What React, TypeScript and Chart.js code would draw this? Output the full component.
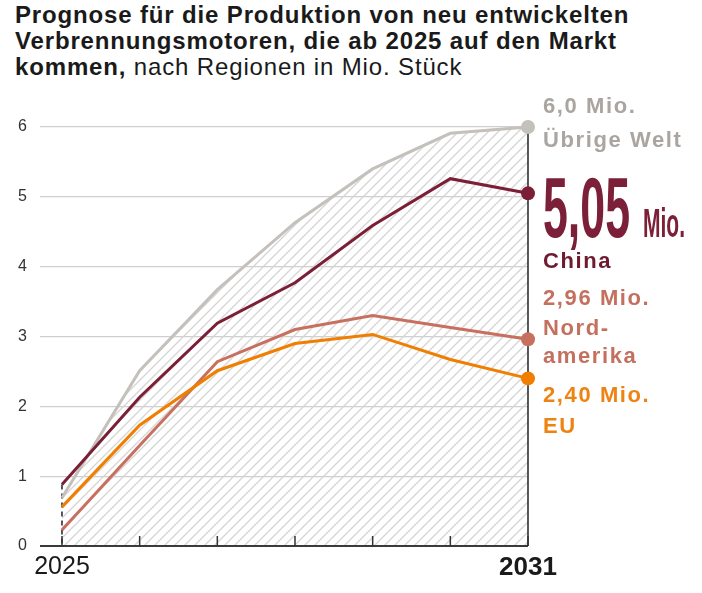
import React, { useEffect, useRef } from "react";
import { Chart, registerables } from "chart.js";

Chart.register(...registerables);

const years = [2025, 2026, 2027, 2028, 2029, 2030, 2031];
const uebrigeWelt = [0.69, 2.51, 3.67, 4.63, 5.4, 5.91, 6.0];
const china = [0.88, 2.13, 3.19, 3.77, 4.59, 5.26, 5.05];
const nordamerika = [0.23, 1.44, 2.64, 3.1, 3.3, 3.13, 2.96];
const eu = [0.56, 1.73, 2.51, 2.9, 3.03, 2.67, 2.4];
const yTickValues = [0, 1, 2, 3, 4, 5, 6];
const shownYears = ["2025", "2031"];

const GRAY = "#c4c0bb";
const CHINA = "#7b1f36";
const NA = "#c8705f";
const EU = "#f07e00";
const FONT = "'Liberation Sans', Arial, sans-serif";

function makeHatch(): CanvasPattern | string {
  const c = document.createElement("canvas");
  c.width = 10;
  c.height = 10;
  const g = c.getContext("2d");
  if (!g) return "rgba(0,0,0,0.05)";
  g.strokeStyle = "#d6d6d6";
  g.lineWidth = 1.4;
  g.beginPath();
  g.moveTo(-1, 11);
  g.lineTo(11, -1);
  g.moveTo(-6, 6);
  g.lineTo(6, -6);
  g.moveTo(4, 16);
  g.lineTo(16, 4);
  g.stroke();
  const p = g.createPattern(c, "repeat");
  return p || "rgba(0,0,0,0.05)";
}

function condensed(ctx: CanvasRenderingContext2D, text: string, x: number, y: number, font: string, width: number, color: string) {
  ctx.save();
  ctx.font = font;
  (ctx as any).letterSpacing = "0px";
  ctx.fillStyle = color;
  ctx.textAlign = "left";
  ctx.textBaseline = "alphabetic";
  const w = ctx.measureText(text).width;
  ctx.translate(x, y);
  ctx.scale(width / w, 1);
  ctx.fillText(text, 0, 0);
  ctx.restore();
}

const guidePlugin = {
  id: "guides",
  beforeDatasetsDraw(chart: any) {
    const { ctx, scales } = chart;
    const xs = scales.x;
    const ys = scales.y;
    const y0 = ys.getPixelForValue(0);
    ctx.save();
    // axis baseline redrawn over the hatch
    ctx.strokeStyle = "#3a3a3a";
    ctx.lineWidth = 2;
    ctx.beginPath();
    ctx.moveTo(chart.chartArea.left, y0);
    ctx.lineTo(chart.chartArea.right, y0);
    ctx.stroke();
    // dashed guide at first year
    const xf = xs.getPixelForValue(years[0]);
    const topFirst = Math.max(uebrigeWelt[0], china[0], nordamerika[0], eu[0]);
    ctx.strokeStyle = "#222";
    ctx.lineWidth = 1.5;
    ctx.setLineDash([5, 4]);
    ctx.beginPath();
    ctx.moveTo(xf, ys.getPixelForValue(topFirst));
    ctx.lineTo(xf, y0);
    ctx.stroke();
    ctx.setLineDash([]);
    // solid guide at last year
    const n = years.length - 1;
    const xl = xs.getPixelForValue(years[n]);
    const topLast = Math.max(uebrigeWelt[n], china[n], nordamerika[n], eu[n]);
    ctx.beginPath();
    ctx.moveTo(xl, ys.getPixelForValue(topLast));
    ctx.lineTo(xl, y0);
    ctx.stroke();
    // tick marks pointing up
    ctx.strokeStyle = "#333";
    ctx.lineWidth = 1.5;
    years.forEach((yr) => {
      const px = xs.getPixelForValue(yr);
      ctx.beginPath();
      ctx.moveTo(px, y0);
      ctx.lineTo(px, y0 - 10);
      ctx.stroke();
    });
    ctx.restore();
  },
};

const labelPlugin = {
  id: "endLabels",
  afterDraw(chart: any) {
    const ctx: CanvasRenderingContext2D = chart.ctx;
    const x = chart.chartArea.right + 15;
    const f = "bold 22px " + FONT;
    ctx.save();
    ctx.textAlign = "left";
    ctx.textBaseline = "alphabetic";
    const txt = (t: string, y: number, c: string) => {
      ctx.font = f;
      (ctx as any).letterSpacing = "1.6px";
      ctx.fillStyle = c;
      ctx.fillText(t, x, y);
    };
    txt("6,0 Mio.", 113, "#aaa5a0");
    txt("Übrige Welt", 147, "#aaa5a0");
    condensed(ctx, "5,05", x, 237, "bold 86px " + FONT, 87, "#7b2038");
    condensed(ctx, "Mio.", x + 100, 237, "bold 40px " + FONT, 42, "#7b2038");
    txt("China", 268, "#6e1b30");
    txt("2,96 Mio.", 305, "#c4705f");
    txt("Nord-", 335, "#c4705f");
    txt("amerika", 363, "#c4705f");
    txt("2,40 Mio.", 402, "#ee8312");
    txt("EU", 433, "#ee8312");
    ctx.restore();
  },
};

function toPoints(vals: number[]) {
  return years.map((yr, i) => ({ x: yr, y: vals[i] }));
}

export default function App() {
  const ref = useRef<HTMLCanvasElement | null>(null);
  useEffect(() => {
    if (!ref.current) return;
    const hatch = makeHatch();
    const lastIdx = years.length - 1;
    const pr = (c: any) => (c.dataIndex === lastIdx ? 7 : 0);
    const common = {
      borderWidth: 3,
      pointRadius: pr,
      pointHoverRadius: pr,
      pointBorderWidth: 0,
      tension: 0,
      clip: false as any,
    };
    const chart = new Chart(ref.current, {
      type: "line",
      data: {
        datasets: [
          { label: "EU", data: toPoints(eu), borderColor: EU, backgroundColor: EU, pointBackgroundColor: EU, fill: false, ...common },
          { label: "Nordamerika", data: toPoints(nordamerika), borderColor: NA, backgroundColor: NA, pointBackgroundColor: NA, fill: false, ...common },
          { label: "China", data: toPoints(china), borderColor: CHINA, backgroundColor: CHINA, pointBackgroundColor: CHINA, fill: false, ...common },
          { label: "Übrige Welt", data: toPoints(uebrigeWelt), borderColor: GRAY, backgroundColor: hatch as any, pointBackgroundColor: GRAY, fill: "origin", order: 10, ...common },
        ],
      },
      options: {
        animation: false,
        responsive: false,
        maintainAspectRatio: false,
        layout: { padding: { top: 127, right: 174, left: 0, bottom: 0 } },
        plugins: {
          legend: { display: false },
          tooltip: { enabled: false },
          title: { display: false },
          filler: { drawTime: "beforeDatasetsDraw" } as any,
        },
        scales: {
          x: {
            type: "linear",
            min: years[0] - 0.283,
            max: years[years.length - 1],
            afterBuildTicks: (s: any) => {
              s.ticks = years.map((v) => ({ value: v }));
            },
            afterFit: (s: any) => {
              s.height = 47;
            },
            grid: { display: false, drawTicks: false },
            border: { display: false },
            ticks: {
              autoSkip: false,
              maxRotation: 0,
              padding: 6,
              color: "#1a1a1a",
              callback: (v: any) => (shownYears.includes(String(v)) ? String(v) : ""),
              font: (c: any) => {
                const last = c.tick && c.tick.value === years[years.length - 1];
                return { family: FONT, size: last ? 26 : 25, weight: last ? "bold" : "normal" };
              },
            },
          },
          y: {
            min: 0,
            max: 6,
            afterBuildTicks: (s: any) => {
              s.ticks = yTickValues.map((v) => ({ value: v }));
            },
            afterFit: (s: any) => {
              s.width = 40;
            },
            grid: { color: "#cfcfcf", lineWidth: 1.3, drawTicks: false },
            border: { display: false },
            ticks: {
              padding: 13,
              color: "#333",
              font: { family: FONT, size: 16 },
              callback: (v: any) => String(v),
            },
          },
        },
      },
      plugins: [guidePlugin, labelPlugin],
    });
    return () => chart.destroy();
  }, []);

  return (
    <div style={{ position: "fixed", left: 0, top: 0, width: 702, height: 593, background: "#fff" }}>
      <div
        style={{
          position: "absolute",
          left: 15,
          top: 2,
          fontFamily: FONT,
          fontSize: 24,
          lineHeight: "26px",
          letterSpacing: "0.85px",
          color: "#1a1a1a",
          whiteSpace: "nowrap",
        }}
      >
        <b>Prognose für die Produktion von neu entwickelten</b>
        <br />
        <b>Verbrennungsmotoren, die ab 2025 auf den Markt</b>
        <br />
        <b>kommen,</b> nach Regionen in Mio. Stück
      </div>
      <canvas ref={ref} width={702} height={593} style={{ position: "absolute", left: 0, top: 0 }} />
    </div>
  );
}
